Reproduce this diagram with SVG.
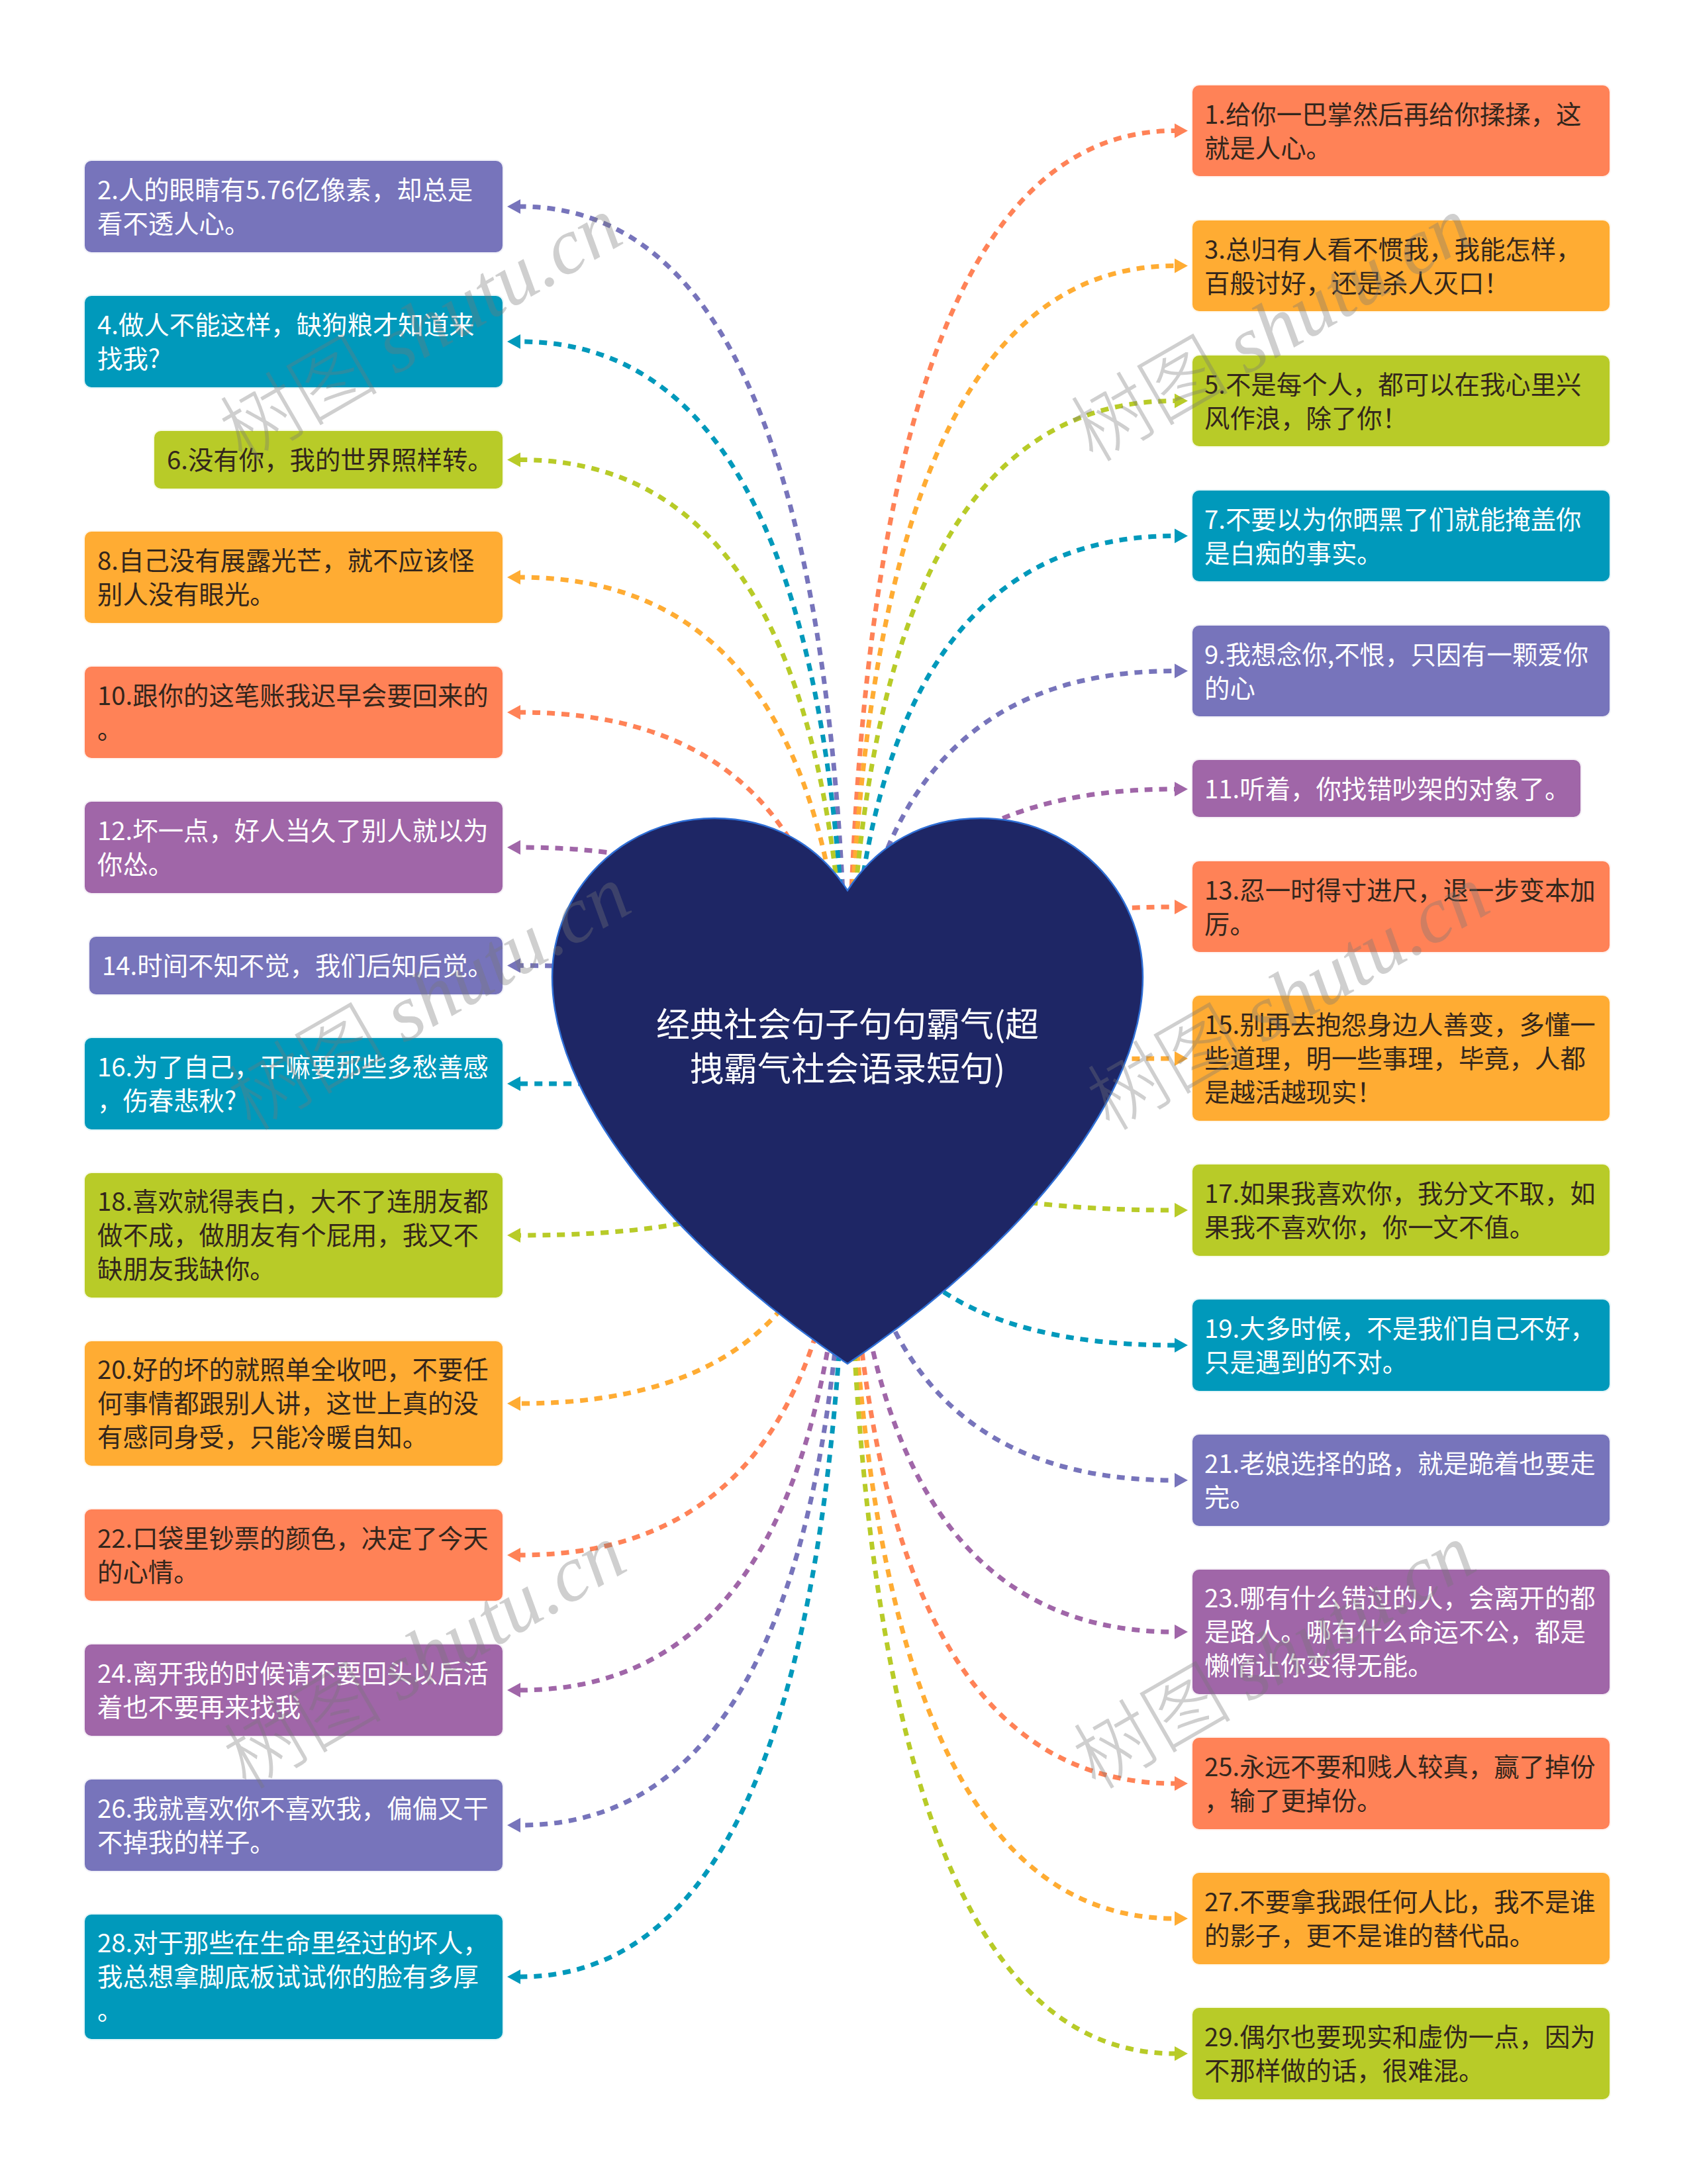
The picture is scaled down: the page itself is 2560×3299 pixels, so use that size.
<svg xmlns="http://www.w3.org/2000/svg" width="2560" height="3299" viewBox="0 0 2560 3299">
<style>
.c{fill:none;stroke-width:7;stroke-dasharray:12 10}
.p{stroke:#7774BB;marker-end:url(#mp)}.t{stroke:#0099BB;marker-end:url(#mt)}.l{stroke:#B8CB28;marker-end:url(#ml)}.a{stroke:#FFAC33;marker-end:url(#ma)}.o{stroke:#FF8257;marker-end:url(#mo)}.v{stroke:#A066A8;marker-end:url(#mv)}
rect{stroke-width:4;stroke-opacity:.1;rx:10px;ry:10px}
.bp{fill:#7774BB;stroke:#7774BB}.bt{fill:#0099BB;stroke:#0099BB}.bl{fill:#B8CB28;stroke:#B8CB28}.ba{fill:#FFAC33;stroke:#FFAC33}.bo{fill:#FF8257;stroke:#FF8257}.bv{fill:#A066A8;stroke:#A066A8}
text{font-family:"Noto Sans CJK SC","Noto Sans",sans-serif;font-size:38.400px;font-weight:400}
.w{fill:#fff}.d{fill:#33261c}
.h{fill:#fff;font-size:51px;text-anchor:middle}
.wm{fill:#777;opacity:.35;font-size:120px;font-weight:300}
.wm tspan+tspan{font-family:"Liberation Serif",serif;font-style:italic;font-weight:400}
</style>
<defs>
<marker id="mp" markerUnits="userSpaceOnUse" markerWidth="20" markerHeight="24" refX="0" refY="12" orient="auto"><path d="M0 1L20 12L0 23z" fill="#7774BB"/></marker>
<marker id="mt" markerUnits="userSpaceOnUse" markerWidth="20" markerHeight="24" refX="0" refY="12" orient="auto"><path d="M0 1L20 12L0 23z" fill="#0099BB"/></marker>
<marker id="ml" markerUnits="userSpaceOnUse" markerWidth="20" markerHeight="24" refX="0" refY="12" orient="auto"><path d="M0 1L20 12L0 23z" fill="#B8CB28"/></marker>
<marker id="ma" markerUnits="userSpaceOnUse" markerWidth="20" markerHeight="24" refX="0" refY="12" orient="auto"><path d="M0 1L20 12L0 23z" fill="#FFAC33"/></marker>
<marker id="mo" markerUnits="userSpaceOnUse" markerWidth="20" markerHeight="24" refX="0" refY="12" orient="auto"><path d="M0 1L20 12L0 23z" fill="#FF8257"/></marker>
<marker id="mv" markerUnits="userSpaceOnUse" markerWidth="20" markerHeight="24" refX="0" refY="12" orient="auto"><path d="M0 1L20 12L0 23z" fill="#A066A8"/></marker>
</defs>
<rect width="2560" height="3299" fill="#fff" style="stroke:none;rx:0;ry:0"/>
<g id="connectors">
<path class="c o" d="M1280 1648Q1280 197.500 1774 197.500"/>
<path class="c p" d="M1280 1648Q1280 312 786 312"/>
<path class="c a" d="M1280 1648Q1280 401.500 1774 401.500"/>
<path class="c t" d="M1280 1648Q1280 516 786 516"/>
<path class="c l" d="M1280 1648Q1280 605.500 1774 605.500"/>
<path class="c l" d="M1280 1648Q1280 694.500 786 694.500"/>
<path class="c t" d="M1280 1648Q1280 809.500 1774 809.500"/>
<path class="c a" d="M1280 1648Q1280 872 786 872"/>
<path class="c p" d="M1280 1648Q1280 1013.500 1774 1013.500"/>
<path class="c o" d="M1280 1648Q1280 1076 786 1076"/>
<path class="c v" d="M1280 1648Q1280 1192 1774 1192"/>
<path class="c v" d="M1280 1648Q1280 1280 786 1280"/>
<path class="c o" d="M1280 1648Q1280 1370 1774 1370"/>
<path class="c p" d="M1280 1648Q1280 1458.500 786 1458.500"/>
<path class="c a" d="M1280 1648Q1280 1599 1774 1599"/>
<path class="c t" d="M1280 1648Q1280 1637 786 1637"/>
<path class="c l" d="M1280 1648Q1280 1828 1774 1828"/>
<path class="c l" d="M1280 1648Q1280 1866 786 1866"/>
<path class="c t" d="M1280 1648Q1280 2032 1774 2032"/>
<path class="c a" d="M1280 1648Q1280 2120 786 2120"/>
<path class="c p" d="M1280 1648Q1280 2236 1774 2236"/>
<path class="c o" d="M1280 1648Q1280 2349 786 2349"/>
<path class="c v" d="M1280 1648Q1280 2465 1774 2465"/>
<path class="c v" d="M1280 1648Q1280 2553 786 2553"/>
<path class="c o" d="M1280 1648Q1280 2694 1774 2694"/>
<path class="c p" d="M1280 1648Q1280 2757 786 2757"/>
<path class="c a" d="M1280 1648Q1280 2898 1774 2898"/>
<path class="c t" d="M1280 1648Q1280 2986 786 2986"/>
<path class="c l" d="M1280 1648Q1280 3102 1774 3102"/>
</g>
<g id="root">
<path d="M1280 1345C1325 1275 1395 1236 1481 1236C1620 1236 1726 1345 1726 1476C1726 1650 1560 1870 1280 2060C1000 1870 834 1650 834 1476C834 1345 940 1236 1079 1236C1165 1236 1235 1275 1280 1345Z" fill="#1E2665" stroke="#2F6FD6" stroke-width="2.500"/>
<text class="h" x="1280" y="1566">经典社会句子句句霸气(超</text>
<text class="h" x="1280" y="1633">拽霸气社会语录短句)</text>
</g>
<g id="n1"><rect class="bo" x="1801" y="129" width="630" height="137"/><text class="d" x="1819" y="187">1.给你一巴掌然后再给你揉揉，这<tspan x="1819" dy="51">就是人心。</tspan></text></g>
<g id="n2"><rect class="bp" x="128" y="243" width="631" height="138"/><text class="w" x="147" y="301">2.人的眼睛有5.76亿像素，却总是<tspan x="147" dy="51">看不透人心。</tspan></text></g>
<g id="n3"><rect class="ba" x="1801" y="333" width="630" height="137"/><text class="d" x="1819" y="391">3.总归有人看不惯我，我能怎样，<tspan x="1819" dy="51">百般讨好，还是杀人灭口！</tspan></text></g>
<g id="n4"><rect class="bt" x="128" y="447" width="631" height="138"/><text class="w" x="147" y="505">4.做人不能这样，缺狗粮才知道来<tspan x="147" dy="51">找我?</tspan></text></g>
<g id="n5"><rect class="bl" x="1801" y="537" width="630" height="137"/><text class="d" x="1819" y="595">5.不是每个人，都可以在我心里兴<tspan x="1819" dy="51">风作浪，除了你！</tspan></text></g>
<g id="n6"><rect class="bl" x="233" y="651" width="526" height="87"/><text class="d" x="252" y="709">6.没有你，我的世界照样转。</text></g>
<g id="n7"><rect class="bt" x="1801" y="741" width="630" height="137"/><text class="w" x="1819" y="799">7.不要以为你晒黑了们就能掩盖你<tspan x="1819" dy="51">是白痴的事实。</tspan></text></g>
<g id="n8"><rect class="ba" x="128" y="803" width="631" height="138"/><text class="d" x="147" y="861">8.自己没有展露光芒，就不应该怪<tspan x="147" dy="51">别人没有眼光。</tspan></text></g>
<g id="n9"><rect class="bp" x="1801" y="945" width="630" height="137"/><text class="w" x="1819" y="1003">9.我想念你,不恨，只因有一颗爱你<tspan x="1819" dy="51">的心</tspan></text></g>
<g id="n10"><rect class="bo" x="128" y="1007" width="631" height="138"/><text class="d" x="147" y="1065">10.跟你的这笔账我迟早会要回来的<tspan x="147" dy="51">。</tspan></text></g>
<g id="n11"><rect class="bv" x="1801" y="1148" width="586" height="86"/><text class="w" x="1819" y="1206">11.听着，你找错吵架的对象了。</text></g>
<g id="n12"><rect class="bv" x="128" y="1211" width="631" height="138"/><text class="w" x="147" y="1269">12.坏一点，好人当久了别人就以为<tspan x="147" dy="51">你怂。</tspan></text></g>
<g id="n13"><rect class="bo" x="1801" y="1301" width="630" height="137"/><text class="d" x="1819" y="1359">13.忍一时得寸进尺，退一步变本加<tspan x="1819" dy="51">厉。</tspan></text></g>
<g id="n14"><rect class="bp" x="135" y="1415" width="624" height="87"/><text class="w" x="154" y="1473">14.时间不知不觉，我们后知后觉。</text></g>
<g id="n15"><rect class="ba" x="1801" y="1504" width="630" height="189"/><text class="d" x="1819" y="1562">15.别再去抱怨身边人善变，多懂一<tspan x="1819" dy="51">些道理，明一些事理，毕竟，人都</tspan><tspan x="1819" dy="51">是越活越现实！</tspan></text></g>
<g id="n16"><rect class="bt" x="128" y="1568" width="631" height="138"/><text class="w" x="147" y="1626">16.为了自己，干嘛要那些多愁善感<tspan x="147" dy="51">，伤春悲秋?</tspan></text></g>
<g id="n17"><rect class="bl" x="1801" y="1759" width="630" height="138"/><text class="d" x="1819" y="1817">17.如果我喜欢你，我分文不取，如<tspan x="1819" dy="51">果我不喜欢你，你一文不值。</tspan></text></g>
<g id="n18"><rect class="bl" x="128" y="1772" width="631" height="188"/><text class="d" x="147" y="1829">18.喜欢就得表白，大不了连朋友都<tspan x="147" dy="51">做不成，做朋友有个屁用，我又不</tspan><tspan x="147" dy="51">缺朋友我缺你。</tspan></text></g>
<g id="n19"><rect class="bt" x="1801" y="1963" width="630" height="138"/><text class="w" x="1819" y="2021">19.大多时候，不是我们自己不好，<tspan x="1819" dy="51">只是遇到的不对。</tspan></text></g>
<g id="n20"><rect class="ba" x="128" y="2026" width="631" height="188"/><text class="d" x="147" y="2083">20.好的坏的就照单全收吧，不要任<tspan x="147" dy="51">何事情都跟别人讲，这世上真的没</tspan><tspan x="147" dy="51">有感同身受，只能冷暖自知。</tspan></text></g>
<g id="n21"><rect class="bp" x="1801" y="2167" width="630" height="138"/><text class="w" x="1819" y="2225">21.老娘选择的路，就是跪着也要走<tspan x="1819" dy="51">完。</tspan></text></g>
<g id="n22"><rect class="bo" x="128" y="2280" width="631" height="138"/><text class="d" x="147" y="2338">22.口袋里钞票的颜色，决定了今天<tspan x="147" dy="51">的心情。</tspan></text></g>
<g id="n23"><rect class="bv" x="1801" y="2371" width="630" height="188"/><text class="w" x="1819" y="2428">23.哪有什么错过的人，会离开的都<tspan x="1819" dy="51">是路人。哪有什么命运不公，都是</tspan><tspan x="1819" dy="51">懒惰让你变得无能。</tspan></text></g>
<g id="n24"><rect class="bv" x="128" y="2484" width="631" height="138"/><text class="w" x="147" y="2542">24.离开我的时候请不要回头以后活<tspan x="147" dy="51">着也不要再来找我</tspan></text></g>
<g id="n25"><rect class="bo" x="1801" y="2625" width="630" height="138"/><text class="d" x="1819" y="2683">25.永远不要和贱人较真，赢了掉份<tspan x="1819" dy="51">，输了更掉份。</tspan></text></g>
<g id="n26"><rect class="bp" x="128" y="2688" width="631" height="138"/><text class="w" x="147" y="2746">26.我就喜欢你不喜欢我，偏偏又干<tspan x="147" dy="51">不掉我的样子。</tspan></text></g>
<g id="n27"><rect class="ba" x="1801" y="2829" width="630" height="138"/><text class="d" x="1819" y="2887">27.不要拿我跟任何人比，我不是谁<tspan x="1819" dy="51">的影子，更不是谁的替代品。</tspan></text></g>
<g id="n28"><rect class="bt" x="128" y="2892" width="631" height="188"/><text class="w" x="147" y="2949">28.对于那些在生命里经过的坏人，<tspan x="147" dy="51">我总想拿脚底板试试你的脸有多厚</tspan><tspan x="147" dy="51">。</tspan></text></g>
<g id="n29"><rect class="bl" x="1801" y="3033" width="630" height="138"/><text class="d" x="1819" y="3091">29.偶尔也要现实和虚伪一点，因为<tspan x="1819" dy="51">不那样做的话，很难混。</tspan></text></g>
<g id="watermarks">
<text class="wm" transform="translate(366 700) rotate(-30)"><tspan>树图 </tspan><tspan>shutu.cn</tspan></text>
<text class="wm" transform="translate(1651 700) rotate(-30)"><tspan>树图 </tspan><tspan>shutu.cn</tspan></text>
<text class="wm" transform="translate(379 1710) rotate(-30)"><tspan>树图 </tspan><tspan>shutu.cn</tspan></text>
<text class="wm" transform="translate(1676 1710) rotate(-30)"><tspan>树图 </tspan><tspan>shutu.cn</tspan></text>
<text class="wm" transform="translate(372 2705) rotate(-30)"><tspan>树图 </tspan><tspan>shutu.cn</tspan></text>
<text class="wm" transform="translate(1655 2705) rotate(-30)"><tspan>树图 </tspan><tspan>shutu.cn</tspan></text>
</g>
</svg>
